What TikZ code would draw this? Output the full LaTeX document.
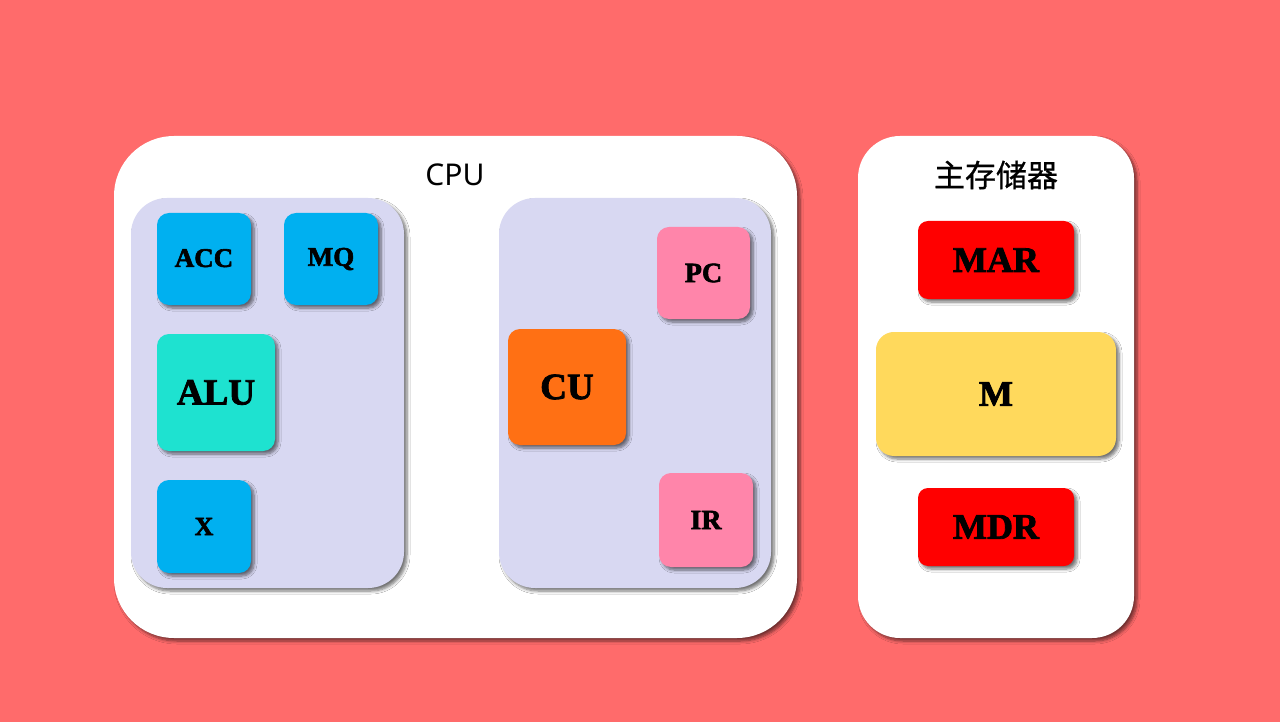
\documentclass[tikz,border=0pt]{standalone}
\usepackage{fontspec}
\setmainfont{Liberation Serif}
\newfontfamily\heavy[FakeBold=2.2]{Liberation Serif Bold}
\newfontfamily\labelsans{Noto Sans}
\newfontfamily\cjk[FakeBold=0.8]{Noto Sans CJK SC}
\usetikzlibrary{shadows.blur}
\definecolor{bgred}{RGB}{255,107,107}
\definecolor{lav}{RGB}{216,216,242}
\definecolor{regblue}{RGB}{0,176,240}
\definecolor{aluteal}{RGB}{30,226,208}
\definecolor{regpink}{RGB}{255,133,170}
\definecolor{cuorange}{RGB}{255,112,20}
\definecolor{memred}{RGB}{255,0,0}
\definecolor{memyellow}{RGB}{255,217,92}
\tikzset{
  shad/.style={blur shadow={shadow xshift=3pt, shadow yshift=-3pt, shadow blur radius=3pt, shadow blur steps=6, shadow opacity=55}},
  container/.style={shad, fill=white, rounded corners=#1, inner sep=0pt},
  panel/.style={shad, fill=lav, rounded corners=36pt, inner sep=0pt},
  reg/.style={shad, rounded corners=12pt, inner sep=0pt, font=\heavy},
}
\begin{document}
\begin{tikzpicture}[x=1pt,y=-1pt]
\useasboundingbox (0,0) rectangle (1280,722);
\fill[bgred] (0,0) rectangle (1280,722);
% containers
\node[container=60pt, minimum width=683pt, minimum height=502pt] (cpu) at (455.5,387) {};
\node[container=42pt, minimum width=276pt, minimum height=502pt] (mem) at (996,387) {};
\node[font=\labelsans\fontsize{30}{36}\selectfont] (cputitle) at (455,175) {CPU};
\node[font=\cjk\fontsize{31}{36}\selectfont] (memtitle) at (996,175) {主存储器};
% panels
\node[panel, minimum width=273pt, minimum height=390pt] (alupanel) at (267.5,393) {};
\node[panel, minimum width=272pt, minimum height=390pt] (cupanel) at (635,393) {};
% ALU side
\node[reg, fill=regblue, minimum width=94pt, minimum height=92pt, font=\heavy\fontsize{27}{30}\selectfont] (acc) at (204,259) {\raisebox{2pt}{ACC}};
\node[reg, fill=regblue, minimum width=94pt, minimum height=92pt, font=\heavy\fontsize{27}{30}\selectfont] (mq) at (331,259) {\raisebox{2pt}{MQ}};
\node[reg, fill=aluteal, minimum width=118pt, minimum height=117pt, font=\heavy\fontsize{37}{40}\selectfont] (alu) at (216,392.5) {ALU};
\node[reg, fill=regblue, minimum width=94pt, minimum height=93pt, font=\heavy\fontsize{26}{30}\selectfont] (x) at (204,526.5) {X};
% CU side
\node[reg, fill=regpink, minimum width=93pt, minimum height=92pt, font=\heavy\fontsize{28}{30}\selectfont] (pc) at (703.5,273) {PC};
\node[reg, fill=cuorange, minimum width=118pt, minimum height=116pt, font=\heavy\fontsize{37}{40}\selectfont] (cu) at (567,387) {CU};
\node[reg, fill=regpink, minimum width=94pt, minimum height=94pt, font=\heavy\fontsize{28}{30}\selectfont] (ir) at (706,520) {IR};
% memory
\node[reg, rounded corners=10pt, fill=memred, minimum width=156pt, minimum height=78pt, font=\heavy\fontsize{36}{40}\selectfont] (mar) at (996,260) {MAR};
\node[reg, rounded corners=18pt, fill=memyellow, minimum width=240pt, minimum height=124pt, font=\heavy\fontsize{36}{40}\selectfont] (m) at (996,394) {M};
\node[reg, rounded corners=10pt, fill=memred, minimum width=156pt, minimum height=78pt, font=\heavy\fontsize{36}{40}\selectfont] (mdr) at (996,527) {MDR};
\end{tikzpicture}
\end{document}
